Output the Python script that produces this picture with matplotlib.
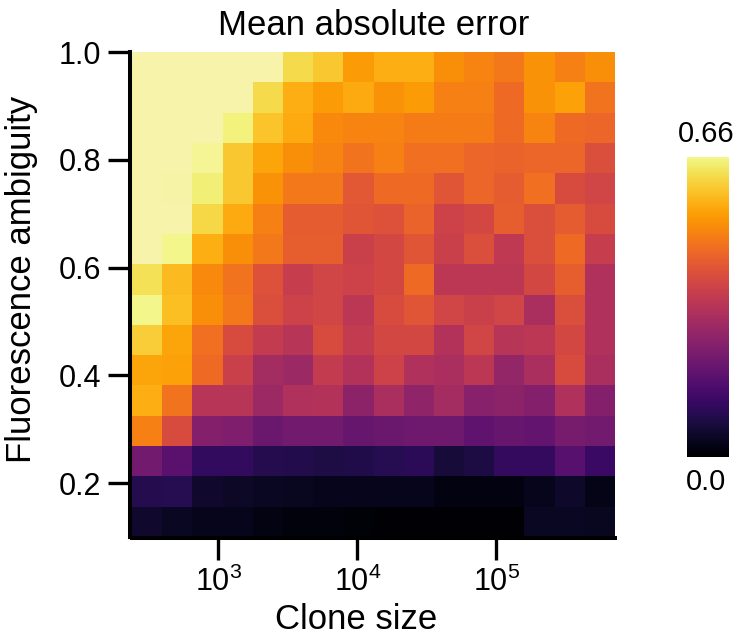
import numpy as np
import matplotlib
matplotlib.use("Agg")
import matplotlib.pyplot as plt
from matplotlib.colors import ListedColormap

plt.rcParams['font.family'] = ['Liberation Sans', 'DejaVu Sans']
plt.rcParams['mathtext.fontset'] = 'custom'
plt.rcParams['mathtext.rm'] = 'Liberation Sans'
plt.rcParams['mathtext.default'] = 'rm'

title = "Mean absolute error"
xlabel = "Clone size"
ylabel = "Fluorescence ambiguity"
xticks = [1e3, 1e4, 1e5]
xticklabels = ["$10^{3}$", "$10^{4}$", "$10^{5}$"]
yticks = [0.2, 0.4, 0.6, 0.8, 1.0]
yticklabels = ["0.2", "0.4", "0.6", "0.8", "1.0"]
cbar_labels = ["0.0", "0.66"]
x_range = (240, 713000)
y_range = (0.1, 1.0)
mae_max = 0.68
cbar_max = 0.66

# colour-scale fraction per cell; first row is ambiguity = 1.0, last is 0.1
row_1 = [1.00, 1.00, 1.00, 1.00, 1.00, 0.91, 0.87, 0.78, 0.82, 0.82, 0.75, 0.73, 0.70, 0.76, 0.72, 0.75]
row_2 = [1.00, 1.00, 1.00, 1.00, 0.91, 0.82, 0.78, 0.81, 0.76, 0.78, 0.72, 0.72, 0.67, 0.76, 0.79, 0.69]
row_3 = [1.00, 1.00, 1.00, 0.96, 0.86, 0.81, 0.74, 0.73, 0.73, 0.71, 0.71, 0.71, 0.67, 0.73, 0.67, 0.66]
row_4 = [1.00, 1.00, 0.98, 0.87, 0.80, 0.75, 0.73, 0.69, 0.72, 0.68, 0.68, 0.66, 0.65, 0.66, 0.66, 0.59]
row_5 = [1.00, 0.995, 0.95, 0.87, 0.76, 0.70, 0.70, 0.62, 0.67, 0.67, 0.61, 0.66, 0.63, 0.68, 0.58, 0.56]
row_6 = [1.00, 1.00, 0.90, 0.81, 0.72, 0.63, 0.63, 0.61, 0.60, 0.65, 0.55, 0.57, 0.64, 0.59, 0.63, 0.58]
row_7 = [1.00, 0.97, 0.82, 0.75, 0.70, 0.64, 0.64, 0.54, 0.57, 0.61, 0.54, 0.59, 0.51, 0.59, 0.67, 0.53]
row_8 = [0.92, 0.84, 0.74, 0.69, 0.60, 0.53, 0.56, 0.55, 0.57, 0.67, 0.50, 0.50, 0.50, 0.57, 0.64, 0.47]
row_9 = [0.97, 0.85, 0.75, 0.70, 0.59, 0.55, 0.56, 0.50, 0.58, 0.61, 0.56, 0.54, 0.56, 0.46, 0.59, 0.47]
row_10 = [0.88, 0.80, 0.68, 0.58, 0.52, 0.49, 0.58, 0.52, 0.57, 0.57, 0.48, 0.56, 0.49, 0.50, 0.57, 0.47]
row_11 = [0.80, 0.79, 0.67, 0.54, 0.44, 0.42, 0.52, 0.48, 0.55, 0.47, 0.46, 0.50, 0.40, 0.46, 0.58, 0.46]
row_12 = [0.82, 0.69, 0.49, 0.49, 0.42, 0.47, 0.48, 0.38, 0.46, 0.39, 0.44, 0.37, 0.38, 0.36, 0.47, 0.36]
row_13 = [0.72, 0.58, 0.36, 0.35, 0.30, 0.32, 0.32, 0.29, 0.30, 0.31, 0.31, 0.27, 0.29, 0.28, 0.33, 0.32]
row_14 = [0.32, 0.26, 0.165, 0.165, 0.135, 0.13, 0.12, 0.125, 0.14, 0.15, 0.10, 0.115, 0.17, 0.17, 0.25, 0.18]
row_15 = [0.135, 0.14, 0.08, 0.07, 0.06, 0.055, 0.05, 0.05, 0.05, 0.05, 0.03, 0.03, 0.03, 0.05, 0.075, 0.04]
row_16 = [0.08, 0.06, 0.05, 0.05, 0.035, 0.02, 0.02, 0.015, 0.005, 0.005, 0.005, 0.005, 0.005, 0.06, 0.06, 0.055]

rows = [row_1, row_2, row_3, row_4, row_5, row_6, row_7, row_8,
        row_9, row_10, row_11, row_12, row_13, row_14, row_15, row_16]
mae = np.array(rows)[::-1] * mae_max

# inferno whose very top fades to the paler yellow of the saturated cells
base = plt.get_cmap('inferno')
fracs = np.linspace(0, 1, 512)
cols = base(fracs)
pale = np.array([0.969, 0.953, 0.667, 1.0])
start = base(0.97)
for i, f in enumerate(fracs):
    if f > 0.97:
        t = (f - 0.97) / 0.03
        cols[i] = (1 - t) * np.array(start) + t * pale
cmap = ListedColormap(cols)

W, H = 747, 635
fig = plt.figure(figsize=(W / 100, H / 100), dpi=100)
ax = fig.add_axes([132 / W, 1 - 537 / H, 483 / W, 485 / H])

x_edges = np.geomspace(x_range[0], x_range[1], mae.shape[1] + 1)
y_edges = np.linspace(y_range[0], y_range[1], mae.shape[0] + 1)
mesh = ax.pcolormesh(x_edges, y_edges, mae, cmap=cmap, vmin=0, vmax=mae_max,
                     linewidth=0, rasterized=True)
ax.set_xscale('log')
ax.set_xlim(*x_range)
ax.set_ylim(*y_range)
ax.spines[['top', 'right']].set_visible(False)
ax.spines[['left', 'bottom']].set_linewidth(2.9)
ax.spines['left'].set_position(('outward', 1.4))
ax.spines['bottom'].set_position(('outward', 0.8))
ax.set_xticks(xticks, xticklabels)
ax.set_xticks([], minor=True)
ax.set_yticks(yticks, yticklabels)
ax.tick_params(axis='both', which='major', width=2.4, length=15.5, labelsize=22, pad=5)
ax.set_title(title, fontsize=25, pad=12)
ax.set_xlabel(xlabel, fontsize=25, va='baseline')
ax.xaxis.set_label_coords(0.463, -0.19)
ax.set_ylabel(ylabel, fontsize=25)
ax.yaxis.set_label_coords(-0.194, 0.532)

cax = fig.add_axes([687 / W, 1 - 457 / H, 42 / W, 300 / H])
cb = fig.colorbar(mesh, cax=cax)
cax.set_ylim(0, cbar_max)
cb.set_ticks([])
cb.outline.set_visible(False)
cax.text(0.464, -0.11, cbar_labels[0], transform=cax.transAxes, ha='center', va='baseline', fontsize=21)
cax.text(0.464, 1.05, cbar_labels[1], transform=cax.transAxes, ha='center', va='baseline', fontsize=21)

fig.savefig('out.png', dpi=100)
